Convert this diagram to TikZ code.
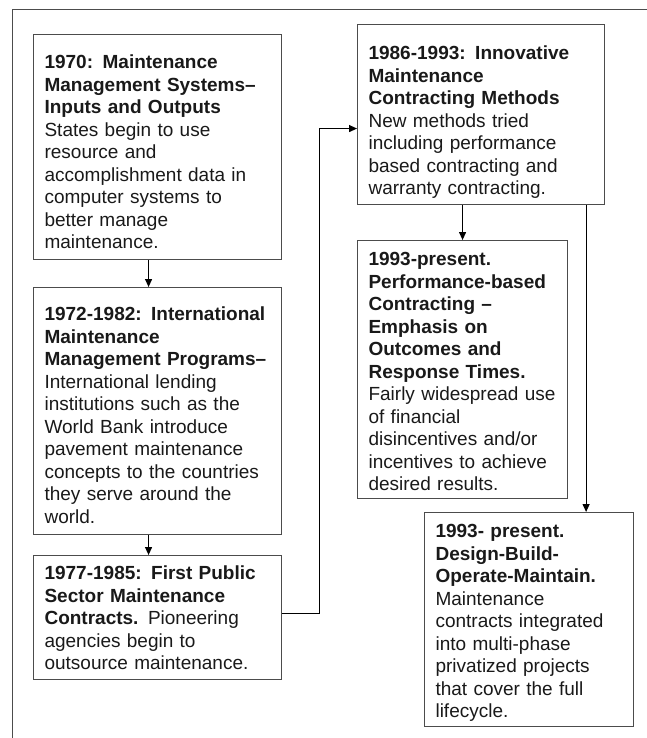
\documentclass[tikz,border=0pt]{standalone}
\usepackage{fontspec}
\setmainfont{Liberation Sans}
\usetikzlibrary{arrows.meta, positioning, calc}

\begin{document}
\begin{tikzpicture}[
    x=1pt, y=-1pt,
    stage/.style={rectangle, draw=black!70, line width=1.1pt, anchor=north west, align=left, inner xsep=11pt, inner ysep=0pt, text=black!90, font=\fontsize{19}{22.5}\selectfont},
    arrow/.style={-{Triangle[length=8pt, width=7pt]}, line width=1.2pt},
    link/.style={line width=1.2pt}
]
    \useasboundingbox (0,0) rectangle (647,738);
    % page frame
    \draw[black!70, line width=0.9pt] (12,738) -- (12,9) -- (647,9);

    % left column
    \node[stage, text width=226pt, text height=34pt, text depth=191pt] (b1970) at (33,34)
        {\bfseries 1970: Maintenance\\Management Systems–\\Inputs and Outputs\\\mdseries
         States begin to use\\resource and\\accomplishment data in\\computer systems to\\better manage\\maintenance.};
    \node[stage, text width=226pt, text height=33pt, text depth=214pt] (b1972) at (33,287)
        {\bfseries 1972-1982: International\\Maintenance\\Management Programs–\\\mdseries
         International lending\\institutions such as the\\World Bank introduce\\pavement maintenance\\concepts to the countries\\they serve around the\\world.};
    \node[stage, text width=226pt, text height=24pt, text depth=100pt] (b1977) at (33,555)
        {\bfseries 1977-1985: First Public\\Sector Maintenance\\Contracts.\mdseries{} Pioneering\\agencies begin to\\outsource maintenance.};

    % right column
    \node[stage, text width=225pt, text height=35pt, text depth=145pt] (b1986) at (357,24)
        {\bfseries 1986-1993: Innovative\\Maintenance\\Contracting Methods\\\mdseries
         New methods tried\\including performance\\based contracting and\\warranty contracting.};
    \node[stage, text width=188pt, text height=25pt, text depth=233pt] (b1993pbc) at (357,240)
        {\bfseries 1993-present.\\Performance-based\\Contracting –\\Emphasis on\\Outcomes and\\Response Times.\\\mdseries
         Fairly widespread use\\of financial\\disincentives and/or\\incentives to achieve\\desired results.};
    \node[stage, text width=187pt, text height=25pt, text depth=189pt] (b1993dbom) at (424,512)
        {\bfseries 1993- present.\\Design-Build-\\Operate-Maintain.\\\mdseries
         Maintenance\\contracts integrated\\into multi-phase\\privatized projects\\that cover the full\\lifecycle.};

    \draw[arrow] ([xshift=-9pt]b1970.south) -- ([xshift=-9pt]b1972.north);
    \draw[arrow] ([xshift=-9pt]b1972.south) -- ([xshift=-9pt]b1977.north);
    \draw[arrow] ([yshift=4pt]b1977.east) -- ++(37,0) |- ([yshift=-14pt]b1986.west);
    \draw[arrow] (b1986.south -| b1993pbc.north) -- (b1993pbc.north);
    \coordinate (drop) at ([xshift=-19pt]b1986.south east);
    \draw[arrow] (drop) -- (drop |- b1993dbom.north);
\end{tikzpicture}
\end{document}
